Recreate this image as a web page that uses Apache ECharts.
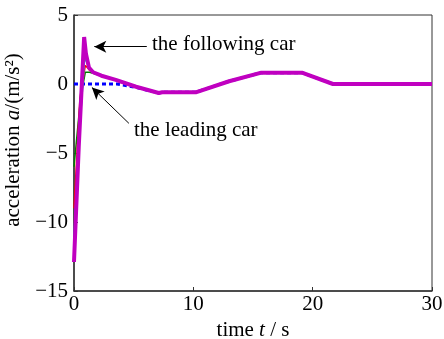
<!DOCTYPE html>
<html>
<head>
<meta charset="utf-8">
<script src="https://cdn.jsdelivr.net/npm/echarts@6/dist/echarts.min.js"></script>
<style>
  html, body { margin: 0; padding: 0; background: #fff; }
  #main { width: 444px; height: 339px; }
</style>
</head>
<body>
<div id="main"></div>
<script>
// shared part of the profile (all cars follow it after the start-up)
var tailT = [3.5, 5.2, 7.1, 7.4, 10.2, 13, 15.7, 19.1, 21.7, 30];
var tailV = [0.3, -0.2, -0.65, -0.6, -0.6, 0.2, 0.82, 0.82, 0, 0];

// start-up parts of each car
var leadT = [0, 3.6, 5.2];
var leadV = [0, 0, -0.25];
var greenT = [0, 0.55, 0.95, 1.3, 2.3];
var greenV = [-6, -1, 0.86, 0.85, 0.6];
var redT = [0, 0.5, 0.95, 1.3, 1.6, 2.3];
var redV = [-9, -1, 1.35, 1.0, 0.8, 0.6];
var cyanT = [0, 0.5, 0.9, 1.2, 1.6, 2.3];
var cyanV = [-11, -3, 1.9, 1.3, 0.85, 0.6];
var magT = [0, 0.4, 0.85, 1.0, 1.25, 1.6, 2.3];
var magV = [-12.9, -4.5, 3.4, 2.2, 1.2, 0.85, 0.6];

// annotation arrows [fromT, fromV, toT, toV]
var arrowFollow = [6.1, 2.7, 1.7, 2.7];
var arrowLead = [4.6, -2.85, 1.5, -0.25];

function pairs(t, v, fromIdx) {
  var out = [];
  for (var i = 0; i < t.length; i++) out.push([t[i], v[i]]);
  for (var j = fromIdx; j < tailT.length; j++) out.push([tailT[j], tailV[j]]);
  return out;
}

var serif = 'Liberation Serif';
var fs = 21;
var myChart = echarts.init(document.getElementById('main'));
var option = {
  animation: false,
  textStyle: { fontFamily: serif },
  grid: {
    left: 74, right: 12, top: 15, bottom: 48,
    outerBoundsMode: 'none',
    show: true, borderColor: '#333', borderWidth: 1
  },
  xAxis: {
    type: 'value', min: 0, max: 30, interval: 10,
    name: '{a|time }{i|t}{a| / s}',
    nameLocation: 'middle', nameGap: 27,
    nameTextStyle: {
      rich: {
        a: { fontFamily: serif, fontSize: fs, color: '#000' },
        i: { fontFamily: serif, fontSize: fs, fontStyle: 'italic', color: '#000' }
      }
    },
    axisLine: { onZero: false, lineStyle: { color: '#333', width: 1.5 } },
    axisTick: { inside: true, length: 4, lineStyle: { color: '#333' } },
    axisLabel: { fontFamily: serif, fontSize: fs, color: '#000', margin: 3 },
    splitLine: { show: false }
  },
  yAxis: {
    type: 'value', min: -15, max: 5, interval: 5,
    name: '{a|acceleration }{i|a}{a|/(m/s²)}',
    nameLocation: 'middle', nameGap: 36,
    nameTextStyle: {
      padding: [0, 0, 0, 26],
      rich: {
        a: { fontFamily: serif, fontSize: fs, color: '#000' },
        i: { fontFamily: serif, fontSize: fs, fontStyle: 'italic', color: '#000' }
      }
    },
    axisLine: { onZero: false, lineStyle: { color: '#333', width: 1.5 } },
    axisTick: { inside: true, length: 4, lineStyle: { color: '#333' } },
    axisLabel: {
      fontFamily: serif, fontSize: fs, color: '#000', margin: 6,
      formatter: function (v) { return String(v).replace('-', '\u2212'); }
    },
    splitLine: { show: false }
  },
  series: [
    {
      name: 'leading', type: 'line', showSymbol: false, z: 1,
      data: pairs(leadT, leadV, 2),
      lineStyle: { color: '#0000ff', width: 3, type: [4, 3] }
    },
    {
      name: 'green', type: 'line', showSymbol: false, z: 2,
      data: pairs(greenT, greenV, 0),
      lineStyle: { color: '#008000', width: 1.5 }
    },
    {
      name: 'red', type: 'line', showSymbol: false, z: 2,
      data: pairs(redT, redV, 0),
      lineStyle: { color: '#ff0000', width: 1.5 }
    },
    {
      name: 'cyan', type: 'line', showSymbol: false, z: 2,
      data: pairs(cyanT, cyanV, 0),
      lineStyle: { color: '#00c0c0', width: 1.5 }
    },
    {
      name: 'magenta', type: 'line', showSymbol: false, z: 3,
      data: pairs(magT, magV, 0),
      lineStyle: { color: '#c000c0', width: 4 },
      markLine: {
        silent: true,
        symbol: ['none', 'arrow'],
        symbolSize: [9, 12],
        label: { show: false },
        lineStyle: { color: '#000', width: 1, type: 'solid' },
        data: [
          [{ coord: [arrowFollow[0], arrowFollow[1]] }, { coord: [arrowFollow[2], arrowFollow[3]] }],
          [{ coord: [arrowLead[0], arrowLead[1]] }, { coord: [arrowLead[2], arrowLead[3]] }]
        ]
      }
    }
  ],
  graphic: [
    {
      type: 'text', left: 152, top: 34,
      style: { text: 'the following car', font: fs + 'px "Liberation Serif"', fill: '#000' }
    },
    {
      type: 'text', left: 134, top: 120,
      style: { text: 'the leading car', font: fs + 'px "Liberation Serif"', fill: '#000' }
    }
  ]
};
myChart.setOption(option);
</script>
</body>
</html>
